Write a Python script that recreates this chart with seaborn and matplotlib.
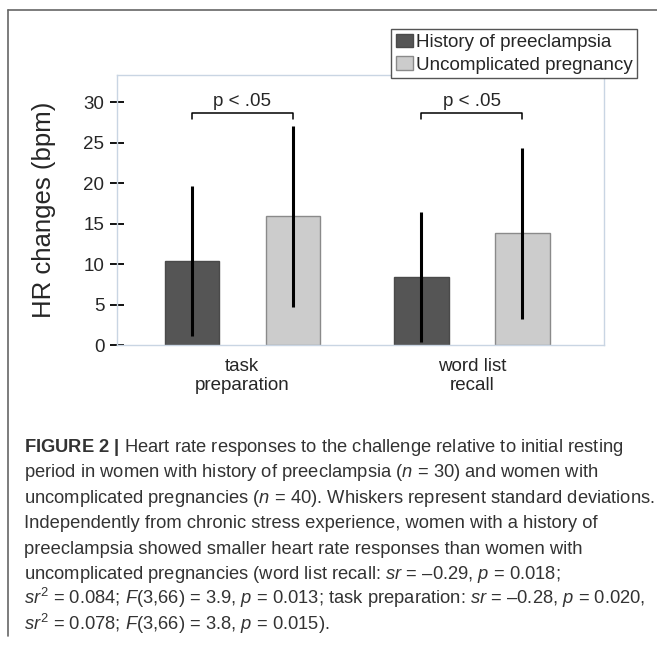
import matplotlib
matplotlib.use("Agg")
import matplotlib.pyplot as plt
import seaborn as sns
import pandas as pd
from matplotlib.lines import Line2D
from matplotlib.patches import Patch

# data
conditions = ["task\npreparation", "word list\nrecall"]
groups = ["History of preeclampsia", "Uncomplicated pregnancy"]
hr_preeclampsia = [10.4, 8.4]
sd_preeclampsia = [9.3, 8.0]
hr_uncomplicated = [15.9, 13.8]
sd_uncomplicated = [11.2, 10.6]
bracket_y = [28.7, 28.7]
bracket_label = "p < .05"

colors = ["#555555", "#cccccc"]
edges = ["#4a4a4a", "#8a8a8a"]

caption_lines = [
    r"$\mathbf{FIGURE\ 2\ |}$ Heart rate responses to the challenge relative to initial resting",
    r"period in women with history of preeclampsia ($\mathit{n}$ = 30) and women with",
    r"uncomplicated pregnancies ($\mathit{n}$ = 40). Whiskers represent standard deviations.",
    "Independently from chronic stress experience, women with a history of",
    "preeclampsia showed smaller heart rate responses than women with",
    r"uncomplicated pregnancies (word list recall: $\mathit{sr}$ = –0.29, $\mathit{p}$ = 0.018;",
    r"$\mathit{sr}^2$ = 0.084; $\mathit{F}$(3,66) = 3.9, $\mathit{p}$ = 0.013; task preparation: $\mathit{sr}$ = –0.28, $\mathit{p}$ = 0.020,",
    r"$\mathit{sr}^2$ = 0.078; $\mathit{F}$(3,66) = 3.8, $\mathit{p}$ = 0.015).",
]

sns.set_style("white")
plt.rcParams["font.family"] = ["Liberation Sans", "DejaVu Sans"]
plt.rcParams["mathtext.fontset"] = "custom"
plt.rcParams["mathtext.rm"] = "Liberation Sans"
plt.rcParams["mathtext.it"] = "Liberation Sans:italic"
plt.rcParams["mathtext.bf"] = "Liberation Sans:bold"

df = pd.DataFrame({
    "condition": conditions * 2,
    "group": [groups[0]] * 2 + [groups[1]] * 2,
    "hr": hr_preeclampsia + hr_uncomplicated,
})
sds = {groups[0]: sd_preeclampsia, groups[1]: sd_uncomplicated}

fig = plt.figure(figsize=(6.57, 6.45), dpi=100)
ax = fig.add_axes([0.178, 0.465, 0.741, 0.419])

sns.barplot(data=df, x="condition", y="hr", hue="group", order=conditions,
            hue_order=groups, palette=colors, saturation=1, errorbar=None,
            width=0.88, gap=0.464, linewidth=1, legend=False, ax=ax)

# bars sorted left to right: dark/light per condition
bars = sorted([p for p in ax.patches if p.get_width() > 0], key=lambda p: p.get_x())
means, errs = [], []
for i in range(len(conditions)):
    for g in groups:
        means.append(df[(df.condition == conditions[i]) & (df.group == g)].hr.iloc[0])
        errs.append(sds[g][i])
xs = [b.get_x() + b.get_width() / 2 for b in bars]
for k, b in enumerate(bars):
    b.set_edgecolor(edges[k % 2])
ax.errorbar(xs, means, yerr=errs, fmt="none", ecolor="black", elinewidth=2.2, capsize=0)

# significance brackets
for i in range(len(conditions)):
    x0, x1 = xs[2 * i], xs[2 * i + 1]
    y = bracket_y[i]
    ax.plot([x0, x0, x1, x1], [y - 0.8, y, y, y - 0.8], color="black", lw=1.1)
    ax.text((x0 + x1) / 2, y + 0.9, bracket_label, ha="center", va="baseline", fontsize=13.5)

ax.set_xlim(-0.546, 1.574)
ax.set_ylim(0, 33.4)
ax.set_yticks(range(0, 31, 5))
ax.set_xlabel("")
ax.set_ylabel("HR changes (bpm)", fontsize=18.5, labelpad=20)
ax.tick_params(axis="y", direction="inout", length=9.4, width=1.3, color="black",
               labelsize=13.5, pad=4.3, left=True)
ax.tick_params(axis="x", length=0, labelsize=13.5, pad=9)
for s in ax.spines.values():
    s.set_color("#c9d5e3")
    s.set_linewidth(1)

handles = [Patch(facecolor=colors[j], edgecolor=edges[j], linewidth=1, label=groups[j])
           for j in range(2)]
leg = fig.legend(handles=handles, loc="upper right", bbox_to_anchor=(637 / 657, 1 - 29 / 645),
                 fontsize=13.5, frameon=True, fancybox=False, framealpha=1,
                 edgecolor="#555555", handlelength=0.89, handleheight=0.71,
                 handletextpad=0.15, borderpad=0.25, labelspacing=0.3, borderaxespad=0)
leg.get_frame().set_linewidth(1)

# outer frame of the figure panel
fig.add_artist(Line2D([8 / 657, 1], [1 - 10 / 645] * 2, color="#666666", lw=1.2))
fig.add_artist(Line2D([8 / 657] * 2, [1 - 10 / 645, 1 - 636 / 645], color="#666666", lw=1.2))

# caption
y0 = 452
for k, line in enumerate(caption_lines):
    fig.text(24 / 657, 1 - (y0 + k * 25.4) / 645, line, fontsize=13.2, color="#333333",
             ha="left", va="baseline")

fig.savefig("out.png", dpi=100)
